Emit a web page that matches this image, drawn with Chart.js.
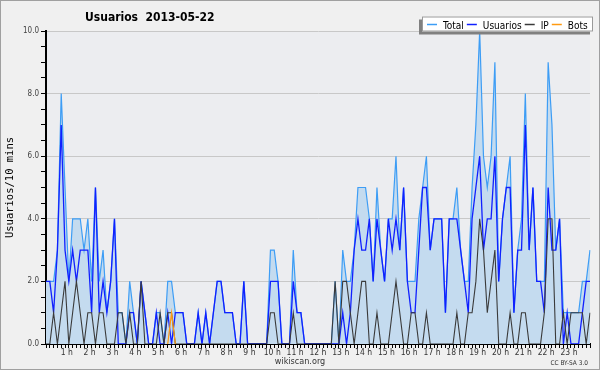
<!DOCTYPE html>
<html>
<head>
<meta charset="utf-8">
<script src="https://cdn.jsdelivr.net/npm/chart.js@4.4.1/dist/chart.umd.min.js"></script>
<style>
html, body { margin: 0; padding: 0; background: #f0f0f0; }
#wrap { width: 600px; height: 370px; }
</style>
</head>
<body>
<div id="wrap"><canvas id="usersChart" width="600" height="370"></canvas></div>
<script>
// Valores cada 10 minutos (144 puntos)
const total = [
    2, 2, 2, 3, 8, 5, 2, 4, 4, 4, 3, 4,
    2, 5, 2, 3, 1, 2, 4, 1, 1, 0, 2, 1,
    0, 2, 1, 0, 0, 1, 1, 0, 2, 2, 1, 1,
    1, 0, 0, 0, 1, 0, 1, 0, 1, 2, 2, 1,
    1, 1, 0, 0, 2, 0, 0, 0, 0, 0, 0, 3,
    3, 2, 0, 0, 0, 3, 1, 1, 0, 0, 0, 0,
    0, 0, 0, 0, 2, 0, 3, 2, 2, 3, 5, 5,
    5, 4, 2, 5, 3, 2, 4, 4, 6, 3, 5, 2,
    2, 2, 4, 5, 6, 3, 4, 4, 4, 1, 4, 4,
    5, 3, 2, 2, 5, 7, 10, 6, 5, 6, 9, 2,
    4, 5, 6, 1, 3, 4, 8, 3, 5, 2, 2, 2,
    9, 7, 3, 4, 1, 1, 1, 1, 1, 2, 2, 3
];
const usuarios = [
    2, 2, 1, 3, 7, 3, 2, 3, 2, 3, 3, 3,
    1, 5, 1, 2, 1, 2, 4, 0, 0, 0, 1, 1,
    0, 2, 1, 0, 0, 1, 0, 0, 1, 0, 1, 1,
    1, 0, 0, 0, 1, 0, 1, 0, 1, 2, 2, 1,
    1, 1, 0, 0, 2, 0, 0, 0, 0, 0, 0, 2,
    2, 2, 0, 0, 0, 2, 1, 1, 0, 0, 0, 0,
    0, 0, 0, 0, 0, 0, 1, 0, 1, 3, 4, 3,
    3, 4, 2, 4, 3, 2, 4, 3, 4, 3, 5, 2,
    1, 1, 3, 5, 5, 3, 4, 4, 4, 1, 4, 4,
    4, 3, 2, 1, 4, 5, 6, 3, 4, 4, 6, 2,
    4, 5, 5, 1, 3, 3, 7, 3, 5, 2, 2, 1,
    5, 3, 3, 4, 0, 1, 0, 0, 0, 1, 2, 2
];
const ip = [
    0, 0, 1, 0, 1, 2, 0, 1, 2, 1, 0, 1,
    1, 0, 1, 1, 0, 0, 0, 1, 1, 0, 1, 0,
    0, 2, 0, 0, 0, 0, 1, 0, 1, 1, 0, 0,
    0, 0, 0, 0, 0, 0, 0, 0, 0, 0, 0, 0,
    0, 0, 0, 0, 0, 0, 0, 0, 0, 0, 0, 1,
    1, 0, 0, 0, 0, 1, 0, 0, 0, 0, 0, 0,
    0, 0, 0, 0, 2, 0, 2, 2, 1, 0, 1, 2,
    2, 0, 0, 1, 0, 0, 0, 1, 2, 1, 0, 0,
    1, 1, 0, 0, 1, 0, 0, 0, 0, 0, 0, 0,
    1, 0, 0, 1, 1, 2, 4, 3, 1, 2, 3, 0,
    0, 0, 1, 0, 0, 1, 1, 0, 0, 0, 0, 1,
    4, 4, 0, 0, 1, 0, 1, 1, 1, 1, 0, 1
];
const bots = [
    null, null, null, null, null, null, null, null, null, null, null, null,
    null, null, null, null, null, null, null, null, null, null, null, null,
    null, null, null, null, null, null, null, null, 0, 1, 0, null,
    null, null, null, null, null, null, null, null, null, null, null, null,
    null, null, null, null, null, null, null, null, null, null, null, null,
    null, null, null, null, null, null, null, null, null, null, null, null,
    null, null, null, null, null, null, null, null, null, null, null, null,
    null, null, null, null, null, null, null, null, null, null, null, null,
    null, null, null, null, null, null, null, null, null, null, null, null,
    null, null, null, null, null, null, null, null, null, null, null, null,
    null, null, null, null, null, null, null, null, null, null, null, null,
    null, null, null, null, null, null, null, null, null, null, null, null
];
const hourLabels = ['1 h', '2 h', '3 h', '4 h', '5 h', '6 h', '7 h', '8 h', '9 h', '10 h', '11 h', '12 h',
    '13 h', '14 h', '15 h', '16 h', '17 h', '18 h', '19 h', '20 h', '21 h', '22 h', '23 h'];

// Etiquetas de los intervalos de 10 minutos
const slots = total.map((v, i) => Math.floor(i / 6) + ':' + String((i % 6) * 10).padStart(2, '0'));

const FONT = "'DejaVu Sans Condensed', 'DejaVu Sans', sans-serif";

// Fondo, borde y zona del grafico
const backgroundPlugin = {
    id: 'fondo',
    beforeDraw(chart) {
        const ctx = chart.ctx;
        const a = chart.chartArea;
        ctx.save();
        ctx.fillStyle = '#f0f0f0';
        ctx.fillRect(0, 0, chart.width, chart.height);
        ctx.strokeStyle = '#a0a0a0';
        ctx.lineWidth = 1;
        ctx.strokeRect(0.5, 0.5, chart.width - 1, chart.height - 1);
        ctx.fillStyle = '#ecedf0';
        ctx.fillRect(a.left, a.top, a.right - a.left, a.bottom - a.top);
        ctx.restore();
    }
};

// Titulo, leyenda y pie
const textPlugin = {
    id: 'textos',
    afterDraw(chart) {
        const ctx = chart.ctx;
        ctx.save();
        ctx.fillStyle = '#000';
        ctx.textBaseline = 'alphabetic';
        ctx.font = 'bold 12px ' + FONT;
        ctx.textAlign = 'left';
        ctx.fillText('Usuarios  2013-05-22', 85, 21);

        // leyenda
        const bx = 422, by = 16.5, bw = 171, bh = 15;
        ctx.fillStyle = '#808080';
        ctx.fillRect(bx - 3, by + 3, bw, bh);
        ctx.fillStyle = '#ffffff';
        ctx.fillRect(bx, by, bw, bh);
        ctx.strokeStyle = '#9a9a9a';
        ctx.lineWidth = 1;
        ctx.strokeRect(bx + 0.5, by + 0.5, bw - 1, bh - 1);
        ctx.font = '10px ' + FONT;
        let x = 427;
        chart.data.datasets.forEach(ds => {
            ctx.strokeStyle = ds.borderColor;
            ctx.lineWidth = 1.5;
            ctx.beginPath();
            ctx.moveTo(x, 24.5);
            ctx.lineTo(x + 10, 24.5);
            ctx.stroke();
            ctx.fillStyle = '#000';
            ctx.fillText(ds.label, x + 16, 28.5);
            x += 16 + ctx.measureText(ds.label).width + 3;
        });

        // pie
        ctx.fillStyle = '#333';
        ctx.font = '9px ' + FONT;
        ctx.textAlign = 'center';
        ctx.fillText('wikiscan.org', 300, 364);
        ctx.font = '6.5px ' + FONT;
        ctx.textAlign = 'right';
        ctx.fillText('CC BY-SA 3.0', 588, 365);
        ctx.restore();
    }
};

const ctx = document.getElementById('usersChart').getContext('2d');

const usersChart = new Chart(ctx, {
    type: 'line',
    data: {
        labels: slots,
        datasets: [
            {
                label: 'Total',
                data: total,
                borderColor: '#3d9df5',
                backgroundColor: '#c4dbef',
                borderWidth: 1.2,
                fill: 'origin',
                order: 4
            },
            {
                label: 'Usuarios',
                data: usuarios,
                borderColor: '#1020ff',
                borderWidth: 1.3,
                fill: false,
                order: 3
            },
            {
                label: 'IP',
                data: ip,
                borderColor: '#3a3a3a',
                borderWidth: 1.1,
                fill: false,
                order: 2
            },
            {
                label: 'Bots',
                data: bots,
                borderColor: '#ff9a10',
                borderWidth: 1.2,
                fill: false,
                spanGaps: false,
                order: 1
            }
        ]
    },
    options: {
        responsive: false,
        animation: false,
        elements: {
            point: { radius: 0 },
            line: { tension: 0 }
        },
        layout: {
            padding: { top: 31, right: 10, left: 0, bottom: 0 }
        },
        plugins: {
            legend: { display: false },
            title: { display: false },
            tooltip: { enabled: false }
        },
        scales: {
            x: {
                type: 'category',
                offset: false,
                afterFit: scale => { scale.height = 26; },
                border: { display: true, color: '#000', width: 2 },
                grid: {
                    drawOnChartArea: false,
                    drawTicks: true,
                    tickLength: 4,
                    tickColor: '#000',
                    tickWidth: 1
                },
                ticks: {
                    autoSkip: false,
                    maxRotation: 0,
                    minRotation: 0,
                    padding: 0,
                    labelOffset: -2,
                    color: '#333',
                    font: { family: FONT, size: 8.5 },
                    callback: (value, index) => (index % 6 === 0 && index > 0) ? hourLabels[index / 6 - 1] : ''
                }
            },
            y: {
                min: 0,
                max: 10,
                afterFit: scale => { scale.width = 46; },
                border: { display: true, color: '#000', width: 2 },
                grid: {
                    color: c => (c.tick && c.tick.value > 0 && c.tick.value % 2 === 0) ? '#c8c8c8' : 'rgba(0,0,0,0)',
                    lineWidth: 1,
                    drawTicks: true,
                    tickLength: 5,
                    tickColor: '#000',
                    tickWidth: 1
                },
                ticks: {
                    stepSize: 0.5,
                    autoSkip: false,
                    padding: 2,
                    color: '#444',
                    font: { family: FONT, size: 8 },
                    callback: v => (v % 2 === 0) ? v.toFixed(1) : ''
                },
                title: {
                    display: true,
                    text: 'Usuarios/10 mins',
                    color: '#000',
                    padding: { top: 4, bottom: 0 },
                    font: { family: "'DejaVu Sans Mono', monospace", size: 10.5 }
                }
            }
        }
    },
    plugins: [backgroundPlugin, textPlugin]
});
</script>
</body>
</html>
